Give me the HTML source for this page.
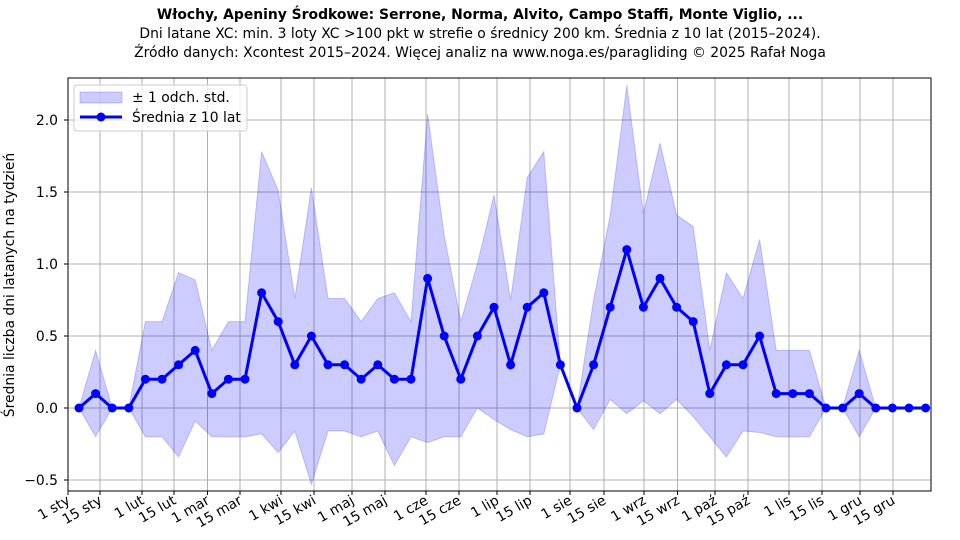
<!DOCTYPE html>
<html><head><meta charset="utf-8"><style>
body{margin:0;background:#fff;}
svg{display:block;font-family:"DejaVu Sans","Liberation Sans",sans-serif;}
</style></head><body>
<svg id="s" width="960" height="540" viewBox="0 0 960 540">
<rect width="960" height="540" fill="#fff"/>
<text x="480" y="19" text-anchor="middle" font-size="13.9" font-weight="bold">Włochy, Apeniny Środkowe: Serrone, Norma, Alvito, Campo Staffi, Monte Viglio, ...</text>
<text x="480" y="38" text-anchor="middle" font-size="13.9">Dni latane XC: min. 3 loty XC &gt;100 pkt w strefie o średnicy 200 km. Średnia z 10 lat (2015–2024).</text>
<text x="480" y="57" text-anchor="middle" font-size="13.9">Źródło danych: Xcontest 2015–2024. Więcej analiz na www.noga.es/paragliding © 2025 Rafał Noga</text>
<text transform="translate(14,285) rotate(-90)" text-anchor="middle" font-size="13.9">Średnia liczba dni latanych na tydzień</text>
<g id="grid" stroke="#b0b0b0" stroke-width="1"></g>
<polygon id="band" fill="#0000ff" fill-opacity="0.2" stroke="#0000ff" stroke-opacity="0.2"/>
<polyline id="line" fill="none" stroke="#0000ff" stroke-width="3"/>
<g id="dots" fill="#0000ff"></g>
<rect x="68" y="78" width="863" height="413" fill="none" stroke="#000" stroke-width="1"/>
<g font-size="13.9" text-anchor="end">
<text x="58" y="125">2.0</text><text x="58" y="197">1.5</text><text x="58" y="269">1.0</text>
<text x="58" y="341">0.5</text><text x="58" y="413">0.0</text><text x="58" y="485">−0.5</text>
</g>
<g id="xl" font-size="13.9"></g>
<g id="leg">
<rect x="74" y="85" width="173" height="46" rx="3" fill="#fff" fill-opacity="0.8" stroke="#ccc"/>
<rect x="80" y="92" width="42" height="11" fill="#0000ff" fill-opacity="0.2" stroke="#0000ff" stroke-opacity="0.2"/>
<text x="132" y="102" font-size="13.9">± 1 odch. std.</text>
<line x1="80" y1="117" x2="122" y2="117" stroke="#0000ff" stroke-width="3"/>
<circle cx="101" cy="117" r="4.5" fill="#0000ff"/>
<text x="132" y="122" font-size="13.9">Średnia z 10 lat</text>
</g>
</svg>
<script>
var m=[0,.1,0,0,.2,.2,.3,.4,.1,.2,.2,.8,.6,.3,.5,.3,.3,.2,.3,.2,.2,.9,.5,.2,.5,.7,.3,.7,.8,.3,0,.3,.7,1.1,.7,.9,.7,.6,.1,.3,.3,.5,.1,.1,.1,0,0,.1,0,0,0,0];
var u=[0,.4,0,0,.6,.6,.94,.89,.4,.6,.6,1.78,1.51,.76,1.53,.76,.76,.6,.76,.8,.6,2.04,1.2,.6,1.0,1.48,.75,1.6,1.78,.3,0,.75,1.34,2.24,1.35,1.84,1.34,1.26,.4,.94,.76,1.17,.4,.4,.4,0,0,.4,0,0,0,0];
function X(i){return 79+i*16.6}function Y(v){return 408-v*144}
var up=[],lo=[],ln=[],d='';
for(var i=0;i<m.length;i++){var l=2*m[i]-u[i];up.push(X(i)+','+Y(u[i]));lo.unshift(X(i)+','+Y(l));ln.push(X(i)+','+Y(m[i]));
d+='<circle cx="'+X(i)+'" cy="'+Y(m[i])+'" r="4.5"/>';}
document.getElementById('band').setAttribute('points',up.concat(lo).join(' '));
document.getElementById('line').setAttribute('points',ln.join(' '));
document.getElementById('dots').innerHTML=d;
var tk=[[68,'1 sty'],[100,'15 sty'],[142,'1 lut'],[174,'15 lut'],[207.5,'1 mar'],[240,'15 mar'],[281,'1 kwi'],[314,'15 kwi'],[352,'1 maj'],[385,'15 maj'],[426,'1 cze'],[459,'15 cze'],[497,'1 lip'],[530,'15 lip'],[570,'1 sie'],[604,'15 sie'],[644,'1 wrz'],[677.5,'15 wrz'],[715,'1 paź'],[748,'15 paź'],[789,'1 lis'],[822,'15 lis'],[860,'1 gru'],[893,'15 gru']];
var g='',xl='';
tk.forEach(function(t){g+='<line x1="'+t[0]+'" y1="78" x2="'+t[0]+'" y2="491"/><line x1="'+t[0]+'" y1="491" x2="'+t[0]+'" y2="495" stroke="#000"/>';
xl+='<text transform="translate('+(t[0]+3)+',503) rotate(-30)" text-anchor="end">'+t[1]+'</text>';});
[-0.5,0,0.5,1,1.5,2].forEach(function(v){var y=Y(v);g+='<line x1="68" y1="'+y+'" x2="931" y2="'+y+'"/><line x1="64" y1="'+y+'" x2="68" y2="'+y+'" stroke="#000"/>';});
document.getElementById('grid').innerHTML=g;
document.getElementById('xl').innerHTML=xl;
</script>
</body></html>
